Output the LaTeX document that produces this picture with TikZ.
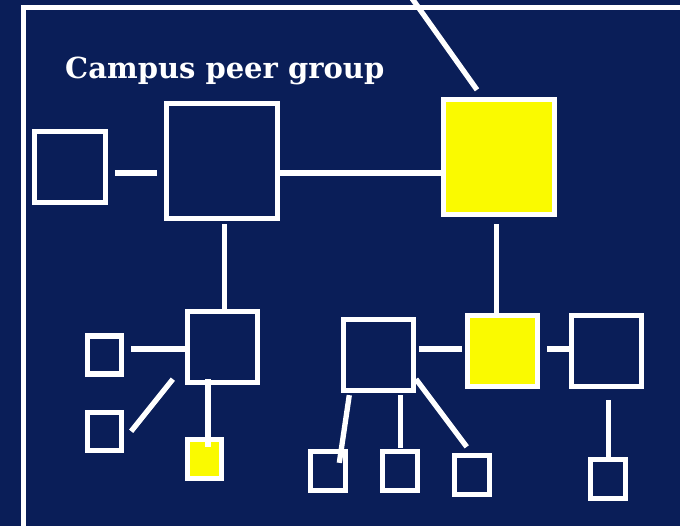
\documentclass[tikz,border=0pt]{standalone}
\usepackage{fontspec}
\newfontfamily\titlefont{DejaVu Serif}
\definecolor{navy}{RGB}{10,30,88}
\definecolor{yel}{RGB}{250,250,0}
\tikzset{
  sq/.style 2 args={draw=white, line width=5.3pt, fill=navy, inner sep=0pt, minimum width=#1, minimum height=#2},
  ysq/.style 2 args={sq={#1}{#2}, fill=yel},
  conn/.style={draw=white, line width=5.3pt},
}
\begin{document}
\begin{tikzpicture}[x=1pt,y=-1pt]
\useasboundingbox (0,0) rectangle (680,526);
\clip (0,0) rectangle (680,526);
\fill[navy] (0,0) rectangle (680,526);
\draw[white,line width=5pt] (23,7.3) rectangle (700,560);
\node[anchor=base west, text=white, font=\titlefont\bfseries\fontsize{29}{29}\selectfont, inner sep=0pt] (title) at (65,79) {Campus peer group};

\node[sq={71pt}{71pt}] (A) at (70.3,167.3) {};
\node[sq={111pt}{115pt}] (B) at (222,161) {};
\node[ysq={111pt}{115pt}] (C) at (498.7,157.3) {};
\node[sq={70pt}{71pt}] (D) at (222.5,347) {};
\node[sq={34pt}{38pt}] (E1) at (104.5,355) {};
\node[sq={34pt}{38pt}] (E2) at (104.5,431.3) {};
\node[ysq={34pt}{39pt}] (F) at (204.5,459.2) {};
\node[sq={70pt}{71pt}] (G) at (378.3,355) {};
\node[ysq={70pt}{71pt}] (H) at (502.3,351.3) {};
\node[sq={70pt}{71pt}] (I) at (606.3,351.3) {};
\node[sq={35pt}{39pt}] (J1) at (328.3,471.3) {};
\node[sq={35pt}{39pt}] (J2) at (400.3,471.3) {};
\node[sq={35pt}{39pt}] (J3) at (472.3,475.3) {};
\node[sq={35pt}{39pt}] (J4) at (608.3,479.3) {};

\draw[conn,shorten <=6.7pt,shorten >=6.6pt] ([yshift=-5.7pt]A.east) -- ([yshift=-12pt]B.west);
\draw[conn] ([yshift=-12pt]B.east) -- ([yshift=-15.7pt]C.west);
\draw[conn,shorten <=3pt] ([xshift=2.3pt]B.south) -- ([xshift=1.8pt]D.north);
\draw[conn,shorten <=6.7pt] ([xshift=-2pt]C.south) -- ([xshift=-5.6pt]H.north);
\draw[conn,shorten <=7pt,shorten >=-3pt] ([yshift=6pt]E1.east) -- ([yshift=-2pt]D.west);
\draw[conn] ([xshift=7pt]E2.east) -- ([xshift=-12pt,yshift=6pt]D.south west);
\draw[conn,shorten <=-6pt,shorten >=-10pt] ([xshift=-14.5pt]D.south) -- ([xshift=3.5pt]F.north);
\draw[conn,shorten <=3pt,shorten >=2.7pt] ([yshift=6pt]G.east) -- ([yshift=2.3pt]H.west);
\draw[conn,shorten <=7pt,shorten >=-4pt] ([yshift=2.3pt]H.east) -- ([yshift=2.3pt]I.west);
\draw[conn] ([xshift=-29pt,yshift=-2pt]G.south) -- ([xshift=11pt,yshift=-13.7pt]J1.north);
\draw[conn,shorten >=1pt] ([xshift=22pt,yshift=-2pt]G.south) -- (J2.north);
\draw[conn] ([yshift=14pt]G.south east) -- ([xshift=-5.6pt,yshift=6.3pt]J3.north);
\draw[conn,shorten <=11pt] ([xshift=2pt]I.south) -- (J4.north);
\coordinate (top) at (411,-3);
\draw[conn] (top) -- ([xshift=-21.7pt,yshift=7.3pt]C.north);
\end{tikzpicture}
\end{document}
